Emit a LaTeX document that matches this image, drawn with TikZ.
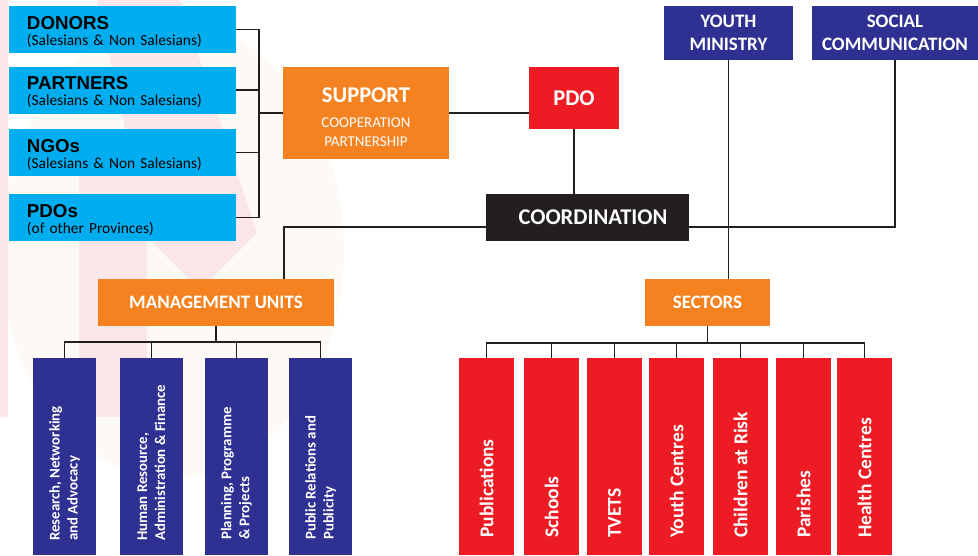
\documentclass[tikz,border=0pt]{standalone}
\usepackage{fontspec}
\setmainfont{Carlito}
\newfontfamily\arialfont{Liberation Sans}
\usetikzlibrary{positioning}

\definecolor{cyanbox}{HTML}{00AEEF}
\definecolor{orangebox}{HTML}{F58220}
\definecolor{redbox}{HTML}{ED1C24}
\definecolor{navybox}{HTML}{2E3192}
\definecolor{darkbox}{HTML}{231F20}
\definecolor{markpink}{HTML}{FBE6EA}
\definecolor{markcream}{HTML}{FDF9F4}

\newcommand\fundtitle[1]{{\arialfont\bfseries\fontsize{18.7}{16}\selectfont\rule{0pt}{18pt}#1}}

\tikzset{
  box/.style={inner sep=0pt, outer sep=0pt, text=white, align=center},
  fund/.style={box, fill=cyanbox, text=black, minimum width=227pt, minimum height=47pt,
               text width=191pt, align=left, font=\fontsize{15.4}{16}\selectfont},
  orangebox/.style={box, fill=orangebox},
  navyhead/.style={box, fill=navybox, minimum height=54pt,
                   font=\bfseries\fontsize{19}{22.5}\selectfont},
  unit/.style={box, fill=navybox, minimum width=63pt, minimum height=197pt},
  unittxt/.style={inner sep=0pt, rotate=90, anchor=west, align=left, text=white,
                  font=\bfseries\fontsize{14.8}{18}\selectfont},
  sector/.style={box, fill=redbox, minimum width=55pt, minimum height=197pt},
  sectortxt/.style={inner sep=0pt, rotate=90, anchor=west, text=white,
                    font=\bfseries\fontsize{19.5}{20}\selectfont},
  conn/.style={draw=darkbox, line width=1.8pt},
}

\begin{document}
\begin{tikzpicture}[x=1pt,y=-1pt]
\useasboundingbox (0,0) rectangle (978,555);

% faint logo in the background
\fill[markcream] (172,250) ellipse [x radius=172, y radius=228];
\fill[markpink] (0,0) rectangle (8,417);
\fill[markpink] (79,165) rectangle (147,417);
\fill[markpink] (97,0) -- (180,0) -- (257,233) -- (200,290) -- (150,240) -- cycle;

% funding side
\node[fund] (donors) at (122.5,29.5) {\fundtitle{DONORS}\\(Salesians \& Non Salesians)};
\node[fund] (partners) at (122.5,90) {\fundtitle{PARTNERS}\\(Salesians \& Non Salesians)};
\node[fund] (ngos) at (122.5,152.5) {\fundtitle{NGOs}\\(Salesians \& Non Salesians)};
\node[fund] (pdos) at (122.5,217.5) {\fundtitle{PDOs}\\(of other Provinces)};

\node[orangebox, minimum width=166pt, minimum height=92pt, font=\fontsize{15}{19}\selectfont]
  (support) at (366,113)
  {{\bfseries\fontsize{22.5}{25}\selectfont\rule{0pt}{24pt}SUPPORT}\\[6pt]COOPERATION\\PARTNERSHIP};
\node[box, fill=redbox, minimum width=90pt, minimum height=62pt,
      font=\bfseries\fontsize{22.5}{25}\selectfont] (pdo) at (574,98) {PDO};
\node[box, fill=darkbox, minimum width=203pt, minimum height=47pt,
      font=\bfseries\fontsize{22.5}{25}\selectfont] (coord) at (587.5,217.5) {\hspace*{11pt}COORDINATION};

\node[navyhead, minimum width=129pt] (youth) at (728.5,33) {YOUTH\\MINISTRY};
\node[navyhead, minimum width=166pt] (social) at (895,33) {SOCIAL\\COMMUNICATION};

\node[orangebox, minimum width=236pt, minimum height=47pt,
      font=\bfseries\fontsize{19}{22}\selectfont] (mu) at (216,302.5) {MANAGEMENT UNITS};
\node[orangebox, minimum width=125pt, minimum height=47pt,
      font=\bfseries\fontsize{19}{22}\selectfont] (sectors) at (707.5,302.5) {SECTORS};

% management units
\node[unit] (res) at (64.5,456.5) {};
\node[unittxt] (res-t) at ([yshift=14pt]res.south) {Research, Networking\\and Advocacy};
\node[unit] (hr) at (151.5,456.5) {};
\node[unittxt] (hr-t) at ([yshift=14pt]hr.south) {Human Resource,\\Administration \& Finance};
\node[unit] (plan) at (236.5,456.5) {};
\node[unittxt] (plan-t) at ([yshift=15pt]plan.south) {Planning, Programme\\\& Projects};
\node[unit] (pr) at (320.5,456.5) {};
\node[unittxt] (pr-t) at ([yshift=15pt]pr.south) {Public Relations and\\Publicity};

% sectors
\foreach \name/\x/\txt in {pub/486.5/Publications, sch/551.5/Schools, tvet/614.5/TVETS,
    yc/676.5/Youth Centres, car/740.5/Children at Risk, par/803.5/Parishes, hc/864.5/Health Centres}{
  \node[sector] (\name) at (\x,456.5) {};
  \node[sectortxt] (\name-t) at ([yshift=17pt]\name.south) {\txt};
}

% connectors
\coordinate (brk) at (259,0);
\draw[conn] (donors.east) -| (brk |- pdos.east) -- (pdos.east);
\draw[conn] (partners.east) -- (brk |- partners.east);
\draw[conn] (ngos.east) -- (brk |- ngos.east);
\draw[conn] (support.west) -- (brk |- support.west);
\draw[conn] (support.east) -- (support.east -| pdo.west);
\draw[conn] (pdo.south) -- (pdo.south |- coord.north);

\coordinate (hub) at ([yshift=-9.5pt]coord.west);
\draw[conn] (hub) -| ([xshift=68pt]mu.north);
\draw[conn] (coord.east |- hub) -| (social.south);
\draw[conn] (youth.south) -- (youth.south |- sectors.north);

\coordinate (mubus) at (0,342);
\foreach \n in {res,hr,plan,pr}
  \draw[conn] (mu.south) -- (mu.south |- mubus) -| (\n.north);
\coordinate (secbus) at (0,343);
\foreach \n in {pub,sch,tvet,yc,car,par,hc}
  \draw[conn] (sectors.south) -- (sectors.south |- secbus) -| (\n.north);
\end{tikzpicture}
\end{document}
